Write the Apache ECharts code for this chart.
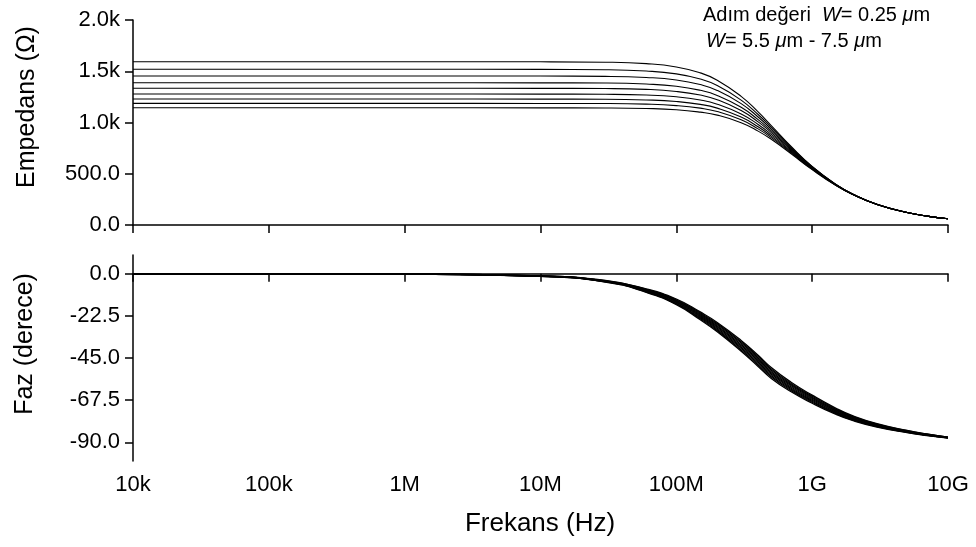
<!DOCTYPE html>
<html>
<head>
<meta charset="utf-8">
<script src="https://cdn.jsdelivr.net/npm/echarts@6/dist/echarts.min.js"></script>
<style>
html,body{margin:0;padding:0;background:#fff;}
#c{width:976px;height:547px;}
</style>
</head>
<body>
<div id="c"></div>
<script>
// Frequencies (Hz) at which values were read
var freqs = [1e4, 1e5, 1e6, 1e7, 3e7, 6e7, 1e8, 1.5e8, 2e8, 3e8, 4e8, 5e8, 7e8, 1e9, 1.5e9, 2e9, 3e9, 5e9, 7e9, 1e10];

// Impedance magnitude (Ohm), W = 5.5 .. 7.5 um (step 0.25)
var zW550 = [1593,1593,1593,1592,1588,1574,1542,1484,1413,1255,1103,970,766,571,395,300,202,122,87,61];
var zW575 = [1519,1519,1519,1518,1515,1502,1474,1424,1361,1218,1078,953,758,568,394,300,202,122,87,61];
var zW600 = [1454,1454,1454,1453,1450,1439,1415,1370,1313,1184,1054,936,749,564,393,299,202,122,87,61];
var zW625 = [1388,1388,1388,1387,1385,1375,1354,1314,1264,1148,1028,918,740,560,392,299,201,122,87,61];
var zW650 = [1334,1334,1334,1333,1331,1323,1303,1268,1223,1117,1006,902,732,556,390,298,201,122,87,61];
var zW675 = [1278,1278,1278,1277,1275,1268,1251,1220,1179,1083,981,884,722,552,389,298,201,122,87,61];
var zW700 = [1229,1229,1229,1228,1227,1220,1205,1177,1140,1053,958,867,712,548,387,297,201,122,87,61];
var zW725 = [1187,1187,1187,1186,1185,1179,1165,1140,1107,1026,938,852,704,544,386,297,201,122,87,61];
var zW750 = [1144,1144,1144,1143,1142,1137,1125,1101,1072,998,916,836,695,540,384,296,201,122,87,61];

// Phase (degrees)
var pW550 = [0,-0.02,-0.24,-1.44,-4.42,-9.93,-16.5,-24.6,-31.0,-41.4,-49.5,-55.9,-63.05,-69.15,-75.15,-78.5,-81.93,-84.9,-86.42,-87.76];
var pW575 = [0,-0.02,-0.23,-1.40,-4.32,-9.69,-16.13,-24.08,-30.38,-40.68,-48.75,-55.18,-62.41,-68.61,-74.74,-78.18,-81.69,-84.75,-86.32,-87.7];
var pW600 = [0,-0.02,-0.22,-1.37,-4.21,-9.46,-15.75,-23.55,-29.75,-39.95,-48.0,-54.45,-61.78,-68.08,-74.33,-77.85,-81.46,-84.6,-86.21,-87.63];
var pW625 = [0,-0.02,-0.21,-1.33,-4.11,-9.23,-15.38,-23.03,-29.13,-39.23,-47.25,-53.73,-61.14,-67.54,-73.91,-77.53,-81.23,-84.45,-86.11,-87.57];
var pW650 = [0,-0.02,-0.20,-1.30,-4.0,-9.0,-15.0,-22.5,-28.5,-38.5,-46.5,-53.0,-60.5,-67.0,-73.5,-77.2,-81.0,-84.3,-86.0,-87.5];
var pW675 = [0,-0.01,-0.19,-1.27,-3.90,-8.77,-14.63,-21.98,-27.88,-37.78,-45.75,-52.28,-59.86,-66.46,-73.09,-76.88,-80.77,-84.15,-85.9,-87.44];
var pW700 = [0,-0.01,-0.18,-1.23,-3.79,-8.54,-14.25,-21.45,-27.25,-37.05,-45.0,-51.55,-59.23,-65.93,-72.68,-76.55,-80.54,-84.0,-85.79,-87.37];
var pW725 = [0,-0.01,-0.17,-1.20,-3.69,-8.31,-13.88,-20.93,-26.63,-36.33,-44.25,-50.83,-58.59,-65.39,-72.26,-76.23,-80.31,-83.85,-85.69,-87.31];
var pW750 = [0,-0.01,-0.16,-1.17,-3.58,-8.08,-13.5,-20.4,-26.0,-35.6,-43.5,-50.1,-57.95,-64.85,-71.85,-75.9,-80.08,-83.7,-85.58,-87.24];

var magSeries = [zW550, zW575, zW600, zW625, zW650, zW675, zW700, zW725, zW750];
var phaseSeries = [pW550, pW575, pW600, pW625, pW650, pW675, pW700, pW725, pW750];

var magTicks = [0, 500, 1000, 1500, 2000];
var magTickLabels = ['0.0', '500.0', '1.0k', '1.5k', '2.0k'];
var phaseTicks = [0, -22.5, -45, -67.5, -90];
var phaseTickLabels = ['0.0', '-22.5', '-45.0', '-67.5', '-90.0'];
var freqTicks = [1e4, 1e5, 1e6, 1e7, 1e8, 1e9, 1e10];
var freqTickLabels = ['10k', '100k', '1M', '10M', '100M', '1G', '10G'];

var FONT = "'Liberation Sans', Arial, sans-serif";

function pairs(ys) {
  return freqs.map(function (f, j) { return [f, ys[j]]; });
}

var axisLineStyle = { color: '#000', width: 1.5 };
var series = [];
magSeries.forEach(function (ys) {
  series.push({
    type: 'line', xAxisIndex: 0, yAxisIndex: 0, data: pairs(ys),
    showSymbol: false, smooth: 0.5,
    lineStyle: { color: '#000', width: 1.1 }, silent: true
  });
});
phaseSeries.forEach(function (ys) {
  series.push({
    type: 'line', xAxisIndex: 1, yAxisIndex: 1, data: pairs(ys),
    showSymbol: false, smooth: 0.5,
    lineStyle: { color: '#000', width: 1.3 }, silent: true
  });
});

function xAxisDef(gridIndex, showLabels) {
  return {
    type: 'log', logBase: 10, gridIndex: gridIndex, min: 1e4, max: 1e10,
    axisLine: { lineStyle: axisLineStyle },
    axisTick: { show: true, length: 8, inside: false, lineStyle: { color: '#000', width: 1.5 }, customValues: freqTicks },
    minorTick: { show: false },
    splitLine: { show: false },
    axisLabel: {
      show: showLabels, customValues: freqTicks, color: '#000', fontFamily: FONT, fontSize: 22, margin: 13,
      formatter: function (v) { var i = freqTicks.indexOf(v); return i >= 0 ? freqTickLabels[i] : ''; }
    }
  };
}

var option = {
  animation: false,
  backgroundColor: '#fff',
  grid: [
    { left: 133, right: 28, top: 20, height: 205 },
    { left: 133, right: 28, top: 255, height: 206 }
  ],
  xAxis: [xAxisDef(0, false), xAxisDef(1, true)],
  yAxis: [
    {
      type: 'value', gridIndex: 0, min: 0, max: 2000, interval: 500,
      axisLine: { show: true, lineStyle: axisLineStyle },
      axisTick: { show: true, length: 8, lineStyle: { color: '#000', width: 1.5 }, customValues: magTicks },
      splitLine: { show: false },
      axisLabel: {
        customValues: magTicks, color: '#000', fontFamily: FONT, fontSize: 22, margin: 13,
        formatter: function (v) { var i = magTicks.indexOf(v); return i >= 0 ? magTickLabels[i] : ''; }
      }
    },
    {
      type: 'value', gridIndex: 1, min: -100, max: 10,
      axisLine: { show: true, lineStyle: axisLineStyle },
      axisTick: { show: true, length: 8, lineStyle: { color: '#000', width: 1.5 }, customValues: phaseTicks },
      splitLine: { show: false },
      axisLabel: {
        customValues: phaseTicks, color: '#000', fontFamily: FONT, fontSize: 22, margin: 13,
        formatter: function (v) { var i = phaseTicks.indexOf(v); return i >= 0 ? phaseTickLabels[i] : ''; }
      }
    }
  ],
  series: series,
  graphic: [
    {
      type: 'text', x: 27, y: 107, rotation: Math.PI / 2,
      style: { text: 'Empedans (Ω)', fill: '#000', font: '25px ' + FONT, align: 'center', verticalAlign: 'middle' }
    },
    {
      type: 'text', x: 25, y: 344, rotation: Math.PI / 2,
      style: { text: 'Faz (derece)', fill: '#000', font: '25px ' + FONT, align: 'center', verticalAlign: 'middle' }
    },
    {
      type: 'text', x: 540, y: 524,
      style: { text: 'Frekans (Hz)', fill: '#000', font: '26px ' + FONT, align: 'center', verticalAlign: 'middle' }
    },
    {
      type: 'text', x: 703, y: 15,
      style: {
        text: 'Adım değeri  {i|W}= 0.25 {i|μ}m', fill: '#000', fontFamily: FONT, fontSize: 20,
        align: 'left', verticalAlign: 'middle',
        rich: { i: { fontStyle: 'italic', fontFamily: FONT, fontSize: 20, fill: '#000' } }
      }
    },
    {
      type: 'text', x: 706, y: 41,
      style: {
        text: '{i|W}= 5.5 {i|μ}m - 7.5 {i|μ}m', fill: '#000', fontFamily: FONT, fontSize: 20,
        align: 'left', verticalAlign: 'middle',
        rich: { i: { fontStyle: 'italic', fontFamily: FONT, fontSize: 20, fill: '#000' } }
      }
    }
  ]
};

var chart = echarts.init(document.getElementById('c'), null, { renderer: 'canvas' });
chart.setOption(option);
</script>
</body>
</html>
